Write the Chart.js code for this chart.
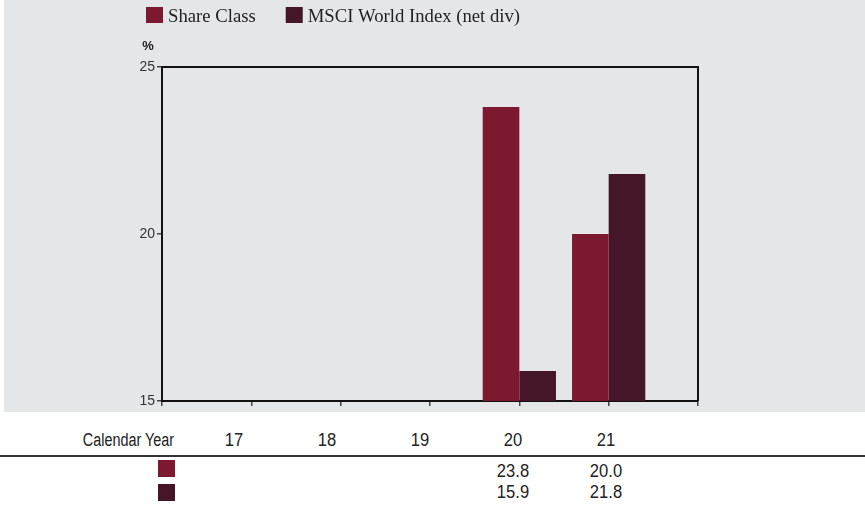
<!DOCTYPE html>
<html><head><meta charset="utf-8">
<script src="https://cdn.jsdelivr.net/npm/chart.js@4.4.0/dist/chart.umd.min.js"></script>
<style>
html,body{margin:0;padding:0;background:#fff;}
body{width:865px;height:505px;position:relative;overflow:hidden;}
#c{position:absolute;left:0;top:0;}
.cell{position:absolute;font-family:"Liberation Sans",Arial,sans-serif;font-size:18px;color:#222;line-height:20px;white-space:nowrap;}
.hdr{transform:scaleX(0.8);transform-origin:right center;}
.num{transform:scaleX(0.92);transform-origin:center center;}
.rule{position:absolute;left:0;width:865px;height:2px;background:#333;}
.sw{position:absolute;width:17px;height:17px;}
</style></head>
<body>
<canvas id="c" width="865" height="412"></canvas>
<div id="tbl"></div>
<script>
// ---- data ----
const years = ['17','18','19','20','21'];
const shareClass = [null, null, null, 23.8, 20.0];
const msciWorld = [null, null, null, 15.9, 21.8];
const seriesNames = ['Share Class', 'MSCI World Index (net div)'];
const seriesColors = ['#7d1831', '#441628'];
const yTicks = [15, 20, 25];
const yUnit = '%';
const tableHeader = 'Calendar Year';

// x axis positions: one empty slot on each side of the years
const axisLabels = [''].concat(years, ['']);
const pad = arr => [null].concat(arr, [null]);

const SANS = '"Liberation Sans",Arial,sans-serif';
const SERIF = '"Liberation Serif","DejaVu Serif",serif';

const bgPlugin = {
  id: 'bg',
  beforeDraw(chart) {
    const c = chart.ctx;
    c.save();
    c.fillStyle = '#e5e6e8';
    c.fillRect(4, 0, chart.width - 4, chart.height);
    c.restore();
  }
};

const framePlugin = {
  id: 'frame',
  afterDraw(chart) {
    const c = chart.ctx, a = chart.chartArea;
    c.save();
    c.strokeStyle = '#111';
    c.lineWidth = 2;
    c.beginPath();
    c.moveTo(a.left, a.top);
    c.lineTo(a.right, a.top);
    c.lineTo(a.right, a.bottom);
    c.stroke();
    // unit label
    c.fillStyle = '#222';
    c.font = 'bold 13px ' + SANS;
    c.textAlign = 'center';
    c.textBaseline = 'middle';
    c.fillText(yUnit, a.left - 14, a.top - 21);
    // legend
    c.font = '18.7px ' + SERIF;
    c.textAlign = 'left';
    let x = a.left - 16;
    chart.data.datasets.forEach(ds => {
      c.fillStyle = ds.backgroundColor;
      c.fillRect(x, 7, 17, 16);
      c.fillStyle = '#222';
      c.fillText(ds.label, x + 22, 17);
      x += 22 + c.measureText(ds.label).width + 30;
    });
    c.restore();
  }
};

new Chart(document.getElementById('c'), {
  type: 'bar',
  data: {
    labels: axisLabels,
    datasets: [
      {label: seriesNames[0], data: pad(shareClass), backgroundColor: seriesColors[0], categoryPercentage: 0.82, barPercentage: 1},
      {label: seriesNames[1], data: pad(msciWorld), backgroundColor: seriesColors[1], categoryPercentage: 0.82, barPercentage: 1}
    ]
  },
  options: {
    responsive: false,
    animation: false,
    layout: {padding: {left: 132, right: 167, top: 67, bottom: 6}},
    plugins: {legend: {display: false}, tooltip: {enabled: false}},
    scales: {
      x: {
        offset: false,
        grid: {display: true, offset: false, drawOnChartArea: false, drawTicks: true, tickLength: 5, color: '#444', lineWidth: 1.5},
        border: {display: true, color: '#111', width: 2},
        ticks: {display: false},
        afterFit(s) { s.height = 5; }
      },
      y: {
        min: yTicks[0], max: yTicks[yTicks.length - 1],
        afterBuildTicks(s) { s.ticks = yTicks.map(v => ({value: v})); },
        grid: {display: true, drawOnChartArea: false, drawTicks: true, tickLength: 5, color: '#444', lineWidth: 1.5},
        border: {display: true, color: '#111', width: 2},
        ticks: {font: {family: SANS, size: 14}, color: '#333', padding: 2},
        afterFit(s) { s.width = 30; }
      }
    }
  },
  plugins: [bgPlugin, framePlugin]
});

// ---- table below the chart ----
const tbl = document.getElementById('tbl');
function cell(text, x, yc, align) {
  const d = document.createElement('div');
  d.className = 'cell ' + (align === 'right' ? 'hdr' : 'num');
  d.textContent = text;
  d.style.top = (yc - 10) + 'px';
  if (align === 'right') { d.style.right = (865 - x) + 'px'; }
  else { d.style.left = (x - 50) + 'px'; d.style.width = '100px'; d.style.textAlign = 'center'; }
  tbl.appendChild(d);
}
const colX = i => 234 + 93 * i;
cell(tableHeader, 174, 440, 'right');
years.forEach((y, i) => cell(y, colX(i), 440));
const rule = document.createElement('div');
rule.className = 'rule'; rule.style.top = '455px';
tbl.appendChild(rule);
[shareClass, msciWorld].forEach((series, r) => {
  const sw = document.createElement('div');
  sw.className = 'sw';
  sw.style.left = '158px';
  sw.style.top = (460 + 24 * r) + 'px';
  sw.style.background = seriesColors[r];
  tbl.appendChild(sw);
  series.forEach((v, i) => { if (v !== null) cell(v.toFixed(1), colX(i), 471 + 21 * r); });
});
</script>
</body></html>
